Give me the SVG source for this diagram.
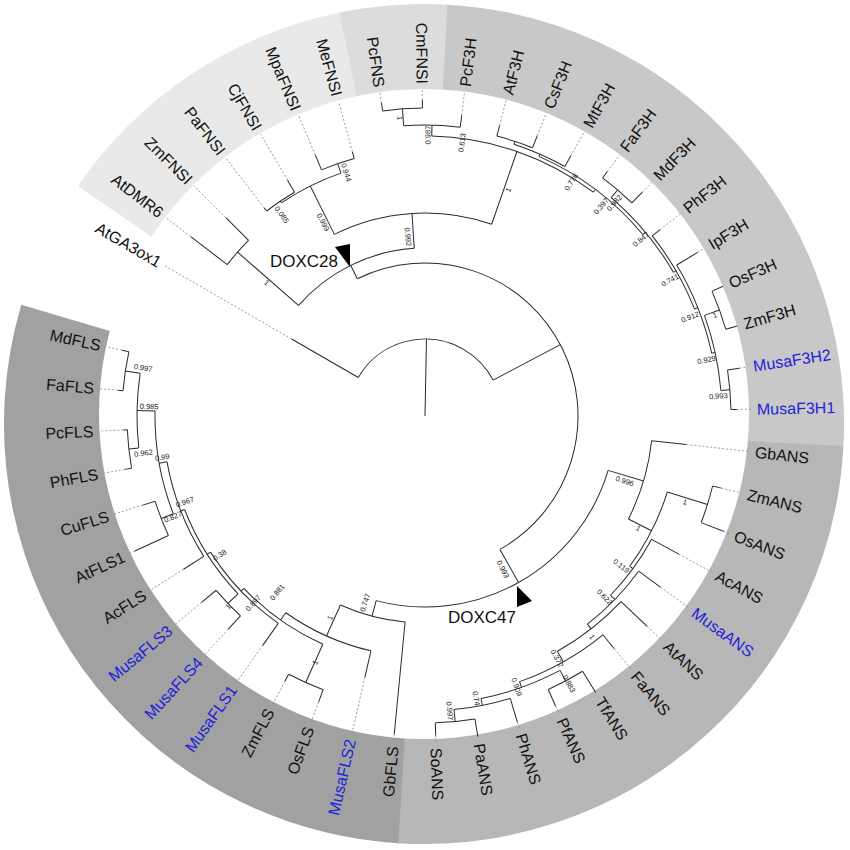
<svg xmlns="http://www.w3.org/2000/svg" width="850" height="850" viewBox="0 0 850 850">
<style>
.b{stroke:#2a2a2a;stroke-width:1;fill:none}
.d{stroke:#8a8a8a;stroke-width:0.8;stroke-dasharray:2 2;fill:none}
.lab{font-family:"Liberation Sans",Arial,sans-serif;font-size:16px;fill:#111}
.f{text-anchor:end}
.musa{fill:#2222d8}
.bs{font-family:"Liberation Sans",Arial,sans-serif;font-size:7.5px;fill:#222;text-anchor:middle}
.band{fill:none;stroke-width:110}
.doxc{font-family:"Liberation Sans",Arial,sans-serif;font-size:17px;fill:#111}
</style>
<rect width="850" height="850" fill="#fff"/>
<g id="bands">
<circle class="band" cx="424" cy="424" r="365" stroke="#e9e9e9" pathLength="360" stroke-dasharray="44.1 360" transform="rotate(214.5 424 424)"/>
<circle class="band" cx="424" cy="424" r="365" stroke="#dcdcdc" pathLength="360" stroke-dasharray="15 360" transform="rotate(258.4 424 424)"/>
<circle class="band" cx="424" cy="424" r="365" stroke="#c8c8c8" pathLength="360" stroke-dasharray="90 360" transform="rotate(273.2 424 424)"/>
<circle class="band" cx="424" cy="424" r="365" stroke="#b7b7b7" pathLength="360" stroke-dasharray="90.7 360" transform="rotate(3 424 424)"/>
<circle class="band" cx="424" cy="424" r="365" stroke="#a1a1a1" pathLength="360" stroke-dasharray="103 360" transform="rotate(93.5 424 424)"/>
<circle cx="424" cy="414" r="325" fill="#fff"/>
</g>
<g id="connectors" transform="translate(425,416)">
<!-- arcs -->
<circle class="b" r="77" pathLength="360" stroke-dasharray="122.21 360" transform="rotate(210)"/>
<circle class="b" r="153" pathLength="360" stroke-dasharray="176.94 360" transform="rotate(243.74)"/>
<circle class="b" r="168" pathLength="360" stroke-dasharray="45.17 360" transform="rotate(221.16)"/>
<circle class="b" r="249" pathLength="360" stroke-dasharray="7.44 360" transform="rotate(217.44)"/>
<circle class="b" r="203" pathLength="360" stroke-dasharray="45.69 360" transform="rotate(243.48)"/>
<circle class="b" r="257" pathLength="360" stroke-dasharray="14.88 360" transform="rotate(236.04)"/>
<circle class="b" r="259" pathLength="360" stroke-dasharray="7.44 360" transform="rotate(232.32)"/>
<circle class="b" r="267" pathLength="360" stroke-dasharray="7.44 360" transform="rotate(247.2)"/>
<circle class="b" r="280" pathLength="360" stroke-dasharray="35.57 360" transform="rotate(271.38)"/>
<circle class="b" r="291" pathLength="360" stroke-dasharray="11.16 360" transform="rotate(265.8)"/>
<circle class="b" r="308" pathLength="360" stroke-dasharray="7.44 360" transform="rotate(262.08)"/>
<circle class="b" r="283.5" pathLength="360" stroke-dasharray="26.5 360" transform="rotate(293.7)"/>
<circle class="b" r="286" pathLength="360" stroke-dasharray="11.16 360" transform="rotate(288.12)"/>
<circle class="b" r="289" pathLength="360" stroke-dasharray="7.44 360" transform="rotate(284.4)"/>
<circle class="b" r="287" pathLength="360" stroke-dasharray="19.53 360" transform="rotate(310.44)"/>
<circle class="b" r="297" pathLength="360" stroke-dasharray="7.44 360" transform="rotate(306.72)"/>
<circle class="b" r="290" pathLength="360" stroke-dasharray="16.74 360" transform="rotate(321.6)"/>
<circle class="b" r="293.5" pathLength="360" stroke-dasharray="18.6 360" transform="rotate(329.04)"/>
<circle class="b" r="297" pathLength="360" stroke-dasharray="14.88 360" transform="rotate(340.2)"/>
<circle class="b" r="313" pathLength="360" stroke-dasharray="7.44 360" transform="rotate(336.48)"/>
<circle class="b" r="306" pathLength="360" stroke-dasharray="7.44 360" transform="rotate(351.36)"/>
<circle class="b" r="191" pathLength="360" stroke-dasharray="88.28 360" transform="rotate(16.54)"/>
<circle class="b" r="228" pathLength="360" stroke-dasharray="20.6 360" transform="rotate(6.24)"/>
<circle class="b" r="254" pathLength="360" stroke-dasharray="18.89 360" transform="rotate(17.4)"/>
<circle class="b" r="296" pathLength="360" stroke-dasharray="7.44 360" transform="rotate(13.68)"/>
<circle class="b" r="258" pathLength="360" stroke-dasharray="15.46 360" transform="rotate(28.56)"/>
<circle class="b" r="264" pathLength="360" stroke-dasharray="16.04 360" transform="rotate(36)"/>
<circle class="b" r="270" pathLength="360" stroke-dasharray="17.2 360" transform="rotate(43.44)"/>
<circle class="b" r="282" pathLength="360" stroke-dasharray="19.53 360" transform="rotate(50.88)"/>
<circle class="b" r="288" pathLength="360" stroke-dasharray="16.74 360" transform="rotate(62.04)"/>
<circle class="b" r="300" pathLength="360" stroke-dasharray="7.44 360" transform="rotate(58.32)"/>
<circle class="b" r="295" pathLength="360" stroke-dasharray="11.16 360" transform="rotate(73.2)"/>
<circle class="b" r="307" pathLength="360" stroke-dasharray="7.44 360" transform="rotate(80.64)"/>
<circle class="b" r="207" pathLength="360" stroke-dasharray="18.6 360" transform="rotate(95.52)"/>
<circle class="b" r="241" pathLength="360" stroke-dasharray="22.32 360" transform="rotate(102.96)"/>
<circle class="b" r="250" pathLength="360" stroke-dasharray="22.32 360" transform="rotate(114.12)"/>
<circle class="b" r="292" pathLength="360" stroke-dasharray="7.44 360" transform="rotate(110.4)"/>
<circle class="b" r="254" pathLength="360" stroke-dasharray="22.32 360" transform="rotate(125.28)"/>
<circle class="b" r="258" pathLength="360" stroke-dasharray="22.32 360" transform="rotate(136.44)"/>
<circle class="b" r="272" pathLength="360" stroke-dasharray="7.44 360" transform="rotate(132.72)"/>
<circle class="b" r="262" pathLength="360" stroke-dasharray="22.32 360" transform="rotate(147.6)"/>
<circle class="b" r="270" pathLength="360" stroke-dasharray="22.32 360" transform="rotate(158.76)"/>
<circle class="b" r="283" pathLength="360" stroke-dasharray="7.44 360" transform="rotate(155.04)"/>
<circle class="b" r="288" pathLength="360" stroke-dasharray="14.88 360" transform="rotate(173.64)"/>
<circle class="b" r="298" pathLength="360" stroke-dasharray="7.44 360" transform="rotate(169.92)"/>
<circle class="b" r="303" pathLength="360" stroke-dasharray="7.44 360" transform="rotate(184.8)"/>
<!-- radial branches -->
<line class="b" x1="0" x2="77" transform="rotate(271.1)"/>
<line class="b" x1="77" x2="154" transform="rotate(210)"/>
<line class="b" x1="77" x2="153" transform="rotate(332.21)"/>
<line class="b" x1="153" x2="168" transform="rotate(243.74)"/>
<line class="b" x1="168" x2="249" transform="rotate(221.16)"/>
<line class="b" x1="249" x2="295" transform="rotate(217.44)"/>
<line class="b" x1="249" x2="281" transform="rotate(224.88)"/>
<line class="b" x1="168" x2="203" transform="rotate(266.33)"/>
<line class="b" x1="203" x2="257" transform="rotate(243.48)"/>
<line class="b" x1="257" x2="259" transform="rotate(236.04)"/>
<line class="b" x1="259" x2="263" transform="rotate(232.32)"/>
<line class="b" x1="259" x2="273" transform="rotate(239.76)"/>
<line class="b" x1="257" x2="267" transform="rotate(250.92)"/>
<line class="b" x1="267" x2="283" transform="rotate(247.2)"/>
<line class="b" x1="267" x2="274" transform="rotate(254.64)"/>
<line class="b" x1="203" x2="280" transform="rotate(289.17)"/>
<line class="b" x1="280" x2="291" transform="rotate(271.38)"/>
<line class="b" x1="291" x2="308" transform="rotate(265.8)"/>
<line class="b" x1="308" x2="316" transform="rotate(262.08)"/>
<line class="b" x1="308" x2="316" transform="rotate(269.52)"/>
<line class="b" x1="291" x2="303" transform="rotate(276.96)"/>
<line class="b" x1="280" x2="283.5" transform="rotate(306.95)"/>
<line class="b" x1="283.5" x2="286" transform="rotate(293.7)"/>
<line class="b" x1="286" x2="289" transform="rotate(288.12)"/>
<line class="b" x1="289" x2="300" transform="rotate(284.4)"/>
<line class="b" x1="289" x2="302" transform="rotate(291.84)"/>
<line class="b" x1="286" x2="298" transform="rotate(299.28)"/>
<line class="b" x1="283.5" x2="287" transform="rotate(320.2)"/>
<line class="b" x1="287" x2="297" transform="rotate(310.44)"/>
<line class="b" x1="297" x2="305" transform="rotate(306.72)"/>
<line class="b" x1="297" x2="312" transform="rotate(314.16)"/>
<line class="b" x1="287" x2="290" transform="rotate(329.97)"/>
<line class="b" x1="290" x2="300" transform="rotate(321.6)"/>
<line class="b" x1="290" x2="293.5" transform="rotate(338.34)"/>
<line class="b" x1="293.5" x2="318" transform="rotate(329.04)"/>
<line class="b" x1="293.5" x2="297" transform="rotate(347.64)"/>
<line class="b" x1="297" x2="313" transform="rotate(340.2)"/>
<line class="b" x1="313" x2="325" transform="rotate(336.48)"/>
<line class="b" x1="313" x2="325" transform="rotate(343.92)"/>
<line class="b" x1="297" x2="306" transform="rotate(355.08)"/>
<line class="b" x1="306" x2="318" transform="rotate(351.36)"/>
<line class="b" x1="306" x2="312" transform="rotate(358.8)"/>
<line class="b" x1="153" x2="191" transform="rotate(60.68)"/>
<line class="b" x1="191" x2="228" transform="rotate(16.54)"/>
<line class="b" x1="228" x2="263" transform="rotate(6.24)"/>
<line class="b" x1="228" x2="254" transform="rotate(26.85)"/>
<line class="b" x1="254" x2="296" transform="rotate(17.4)"/>
<line class="b" x1="296" x2="305" transform="rotate(13.68)"/>
<line class="b" x1="296" x2="320" transform="rotate(21.12)"/>
<line class="b" x1="254" x2="258" transform="rotate(36.29)"/>
<line class="b" x1="258" x2="289" transform="rotate(28.56)"/>
<line class="b" x1="258" x2="264" transform="rotate(44.02)"/>
<line class="b" x1="264" x2="291" transform="rotate(36)"/>
<line class="b" x1="264" x2="270" transform="rotate(52.04)"/>
<line class="b" x1="270" x2="306" transform="rotate(43.44)"/>
<line class="b" x1="270" x2="282" transform="rotate(60.65)"/>
<line class="b" x1="282" x2="300" transform="rotate(50.88)"/>
<line class="b" x1="282" x2="288" transform="rotate(70.41)"/>
<line class="b" x1="288" x2="300" transform="rotate(62.04)"/>
<line class="b" x1="300" x2="325" transform="rotate(58.32)"/>
<line class="b" x1="300" x2="318" transform="rotate(65.76)"/>
<line class="b" x1="288" x2="295" transform="rotate(78.78)"/>
<line class="b" x1="295" x2="320" transform="rotate(73.2)"/>
<line class="b" x1="295" x2="307" transform="rotate(84.36)"/>
<line class="b" x1="307" x2="325" transform="rotate(80.64)"/>
<line class="b" x1="307" x2="320" transform="rotate(88.08)"/>
<line class="b" x1="191" x2="207" transform="rotate(104.82)"/>
<line class="b" x1="207" x2="320" transform="rotate(95.52)"/>
<line class="b" x1="207" x2="241" transform="rotate(114.12)"/>
<line class="b" x1="241" x2="268" transform="rotate(102.96)"/>
<line class="b" x1="241" x2="250" transform="rotate(125.28)"/>
<line class="b" x1="250" x2="292" transform="rotate(114.12)"/>
<line class="b" x1="292" x2="305" transform="rotate(110.4)"/>
<line class="b" x1="292" x2="300" transform="rotate(117.84)"/>
<line class="b" x1="250" x2="254" transform="rotate(136.44)"/>
<line class="b" x1="254" x2="281" transform="rotate(125.28)"/>
<line class="b" x1="254" x2="258" transform="rotate(147.6)"/>
<line class="b" x1="258" x2="272" transform="rotate(136.44)"/>
<line class="b" x1="272" x2="290" transform="rotate(132.72)"/>
<line class="b" x1="272" x2="291" transform="rotate(140.16)"/>
<line class="b" x1="258" x2="262" transform="rotate(158.76)"/>
<line class="b" x1="262" x2="286" transform="rotate(147.6)"/>
<line class="b" x1="262" x2="270" transform="rotate(169.92)"/>
<line class="b" x1="270" x2="283" transform="rotate(158.76)"/>
<line class="b" x1="283" x2="320" transform="rotate(155.04)"/>
<line class="b" x1="283" x2="296" transform="rotate(162.48)"/>
<line class="b" x1="270" x2="288" transform="rotate(181.08)"/>
<line class="b" x1="288" x2="298" transform="rotate(173.64)"/>
<line class="b" x1="298" x2="305" transform="rotate(169.92)"/>
<line class="b" x1="298" x2="302" transform="rotate(177.36)"/>
<line class="b" x1="288" x2="303" transform="rotate(188.52)"/>
<line class="b" x1="303" x2="308" transform="rotate(184.8)"/>
<line class="b" x1="303" x2="310" transform="rotate(192.24)"/>
<!-- dotted leader lines -->
<line class="d" x1="154" x2="300" transform="rotate(210)"/>
<line class="d" x1="295" x2="326" transform="rotate(217.44)"/>
<line class="d" x1="281" x2="326" transform="rotate(224.88)"/>
<line class="d" x1="263" x2="326" transform="rotate(232.32)"/>
<line class="d" x1="273" x2="326" transform="rotate(239.76)"/>
<line class="d" x1="283" x2="326" transform="rotate(247.2)"/>
<line class="d" x1="274" x2="326" transform="rotate(254.64)"/>
<line class="d" x1="316" x2="326" transform="rotate(262.08)"/>
<line class="d" x1="316" x2="326" transform="rotate(269.52)"/>
<line class="d" x1="303" x2="326" transform="rotate(276.96)"/>
<line class="d" x1="300" x2="326" transform="rotate(284.4)"/>
<line class="d" x1="302" x2="326" transform="rotate(291.84)"/>
<line class="d" x1="298" x2="326" transform="rotate(299.28)"/>
<line class="d" x1="305" x2="326" transform="rotate(306.72)"/>
<line class="d" x1="312" x2="326" transform="rotate(314.16)"/>
<line class="d" x1="300" x2="326" transform="rotate(321.6)"/>
<line class="d" x1="318" x2="326" transform="rotate(329.04)"/>
<line class="d" x1="318" x2="326" transform="rotate(351.36)"/>
<line class="d" x1="312" x2="326" transform="rotate(358.8)"/>
<line class="d" x1="263" x2="326" transform="rotate(6.24)"/>
<line class="d" x1="305" x2="326" transform="rotate(13.68)"/>
<line class="d" x1="320" x2="326" transform="rotate(21.12)"/>
<line class="d" x1="289" x2="326" transform="rotate(28.56)"/>
<line class="d" x1="291" x2="326" transform="rotate(36)"/>
<line class="d" x1="306" x2="326" transform="rotate(43.44)"/>
<line class="d" x1="300" x2="326" transform="rotate(50.88)"/>
<line class="d" x1="318" x2="326" transform="rotate(65.76)"/>
<line class="d" x1="320" x2="326" transform="rotate(73.2)"/>
<line class="d" x1="320" x2="326" transform="rotate(88.08)"/>
<line class="d" x1="320" x2="326" transform="rotate(95.52)"/>
<line class="d" x1="268" x2="326" transform="rotate(102.96)"/>
<line class="d" x1="305" x2="326" transform="rotate(110.4)"/>
<line class="d" x1="300" x2="326" transform="rotate(117.84)"/>
<line class="d" x1="281" x2="326" transform="rotate(125.28)"/>
<line class="d" x1="290" x2="326" transform="rotate(132.72)"/>
<line class="d" x1="291" x2="326" transform="rotate(140.16)"/>
<line class="d" x1="286" x2="326" transform="rotate(147.6)"/>
<line class="d" x1="320" x2="326" transform="rotate(155.04)"/>
<line class="d" x1="296" x2="326" transform="rotate(162.48)"/>
<line class="d" x1="305" x2="326" transform="rotate(169.92)"/>
<line class="d" x1="302" x2="326" transform="rotate(177.36)"/>
<line class="d" x1="308" x2="326" transform="rotate(184.8)"/>
<line class="d" x1="310" x2="326" transform="rotate(192.24)"/>
</g>
<g id="support" transform="translate(425,416)">
<text class="bs" dy=".35em" transform="rotate(264.6) translate(180 0) rotate(180)">0.992</text>
<text class="bs" dy=".35em" transform="rotate(242.3) translate(219 0) rotate(180)">0.999</text>
<text class="bs" dy=".35em" transform="rotate(234.6) translate(247 0) rotate(180)">0.085</text>
<text class="bs" dy=".35em" transform="rotate(252.1) translate(256 0) rotate(180)">0.944</text>
<text class="bs" dy=".35em" transform="rotate(265.2) translate(299 0) rotate(180)">1</text>
<text class="bs" dy=".35em" transform="rotate(220.1) translate(207 0) rotate(180)">1</text>
<text class="bs" dy=".35em" transform="rotate(270.6) translate(281 0)">0.987</text>
<text class="bs" dy=".35em" transform="rotate(277.7) translate(276 0)">0.613</text>
<text class="bs" dy=".35em" transform="rotate(290.2) translate(241 0)">1</text>
<text class="bs" dy=".35em" transform="rotate(302) translate(276 0)">0.778</text>
<text class="bs" dy=".35em" transform="rotate(310) translate(274 0)">0.397</text>
<text class="bs" dy=".35em" transform="rotate(311.6) translate(285 0)">0.982</text>
<text class="bs" dy=".35em" transform="rotate(320.7) translate(279 0)">0.847</text>
<text class="bs" dy=".35em" transform="rotate(331) translate(280 0)">0.741</text>
<text class="bs" dy=".35em" transform="rotate(339.5) translate(283 0)">0.912</text>
<text class="bs" dy=".35em" transform="rotate(340.8) translate(307 0)">1</text>
<text class="bs" dy=".35em" transform="rotate(348.7) translate(287 0)">0.929</text>
<text class="bs" dy=".35em" transform="rotate(356.1) translate(294 0)">0.993</text>
<text class="bs" dy=".35em" transform="rotate(18) translate(210 0)">0.996</text>
<text class="bs" dy=".35em" transform="rotate(27.7) translate(241 0)">1</text>
<text class="bs" dy=".35em" transform="rotate(18.3) translate(274 0)">1</text>
<text class="bs" dy=".35em" transform="rotate(37.4) translate(247 0)">0.119</text>
<text class="bs" dy=".35em" transform="rotate(45.2) translate(255 0)">0.622</text>
<text class="bs" dy=".35em" transform="rotate(52.9) translate(277 0)">1</text>
<text class="bs" dy=".35em" transform="rotate(61.4) translate(276 0)">0.372</text>
<text class="bs" dy=".35em" transform="rotate(61.7) translate(304 0)">0.883</text>
<text class="bs" dy=".35em" transform="rotate(71.3) translate(286 0)">0.909</text>
<text class="bs" dy=".35em" transform="rotate(79.7) translate(287 0)">0.74</text>
<text class="bs" dy=".35em" transform="rotate(85.2) translate(296 0)">0.997</text>
<text class="bs" dy=".35em" transform="rotate(63) translate(172 0)">0.993</text>
<text class="bs" dy=".35em" transform="rotate(107.8) translate(196 0) rotate(180)">0.747</text>
<text class="bs" dy=".35em" transform="rotate(115.2) translate(223 0) rotate(180)">1</text>
<text class="bs" dy=".35em" transform="rotate(114) translate(270 0) rotate(180)">1</text>
<text class="bs" dy=".35em" transform="rotate(130) translate(230 0) rotate(180)">0.881</text>
<text class="bs" dy=".35em" transform="rotate(132.6) translate(254 0) rotate(180)">0.897</text>
<text class="bs" dy=".35em" transform="rotate(135.9) translate(274 0) rotate(180)">1</text>
<text class="bs" dy=".35em" transform="rotate(145.9) translate(248 0) rotate(180)">0.38</text>
<text class="bs" dy=".35em" transform="rotate(160.3) translate(255 0) rotate(180)">0.967</text>
<text class="bs" dy=".35em" transform="rotate(158.2) translate(271.5 0) rotate(180)">0.827</text>
<text class="bs" dy=".35em" transform="rotate(171.1) translate(266 0) rotate(180)">0.99</text>
<text class="bs" dy=".35em" transform="rotate(172.5) translate(284 0) rotate(180)">0.962</text>
<text class="bs" dy=".35em" transform="rotate(182) translate(276 0) rotate(180)">0.985</text>
<text class="bs" dy=".35em" transform="rotate(189.7) translate(286 0) rotate(180)">0.997</text>
</g>
<g id="clade-markers">
<g id="DOXC28"><polygon points="335,247 350,244 350,267" fill="#000"/><text class="doxc" x="270" y="267">DOXC28</text></g>
<g id="DOXC47"><polygon points="517,586 532,601 517,607" fill="#000"/><text class="doxc" x="448" y="623">DOXC47</text></g>
</g>
<g id="leaves" transform="translate(425,416)">
<g id="AtGA3ox1"><text class="lab f" dy=".35em" transform="rotate(210) translate(306 0) rotate(180)">AtGA3ox1</text></g>
<g id="AtDMR6"><text class="lab f" dy=".35em" transform="rotate(217.44) translate(332 0) rotate(180)">AtDMR6</text></g>
<g id="ZmFNSI"><text class="lab f" dy=".35em" transform="rotate(224.88) translate(332 0) rotate(180)">ZmFNSI</text></g>
<g id="PaFNSI"><text class="lab f" dy=".35em" transform="rotate(232.32) translate(332 0) rotate(180)">PaFNSI</text></g>
<g id="CjFNSI"><text class="lab f" dy=".35em" transform="rotate(239.76) translate(332 0) rotate(180)">CjFNSI</text></g>
<g id="MpaFNSI"><text class="lab f" dy=".35em" transform="rotate(247.2) translate(332 0) rotate(180)">MpaFNSI</text></g>
<g id="MeFNSI"><text class="lab f" dy=".35em" transform="rotate(254.64) translate(332 0) rotate(180)">MeFNSI</text></g>
<g id="PcFNS"><text class="lab f" dy=".35em" transform="rotate(262.08) translate(332 0) rotate(180)">PcFNS</text></g>
<g id="CmFNSI"><text class="lab f" dy=".35em" transform="rotate(269.52) translate(332 0) rotate(180)">CmFNSI</text></g>
<g id="PcF3H"><text class="lab" dy=".35em" transform="rotate(276.96) translate(332 0)">PcF3H</text></g>
<g id="AtF3H"><text class="lab" dy=".35em" transform="rotate(284.4) translate(332 0)">AtF3H</text></g>
<g id="CsF3H"><text class="lab" dy=".35em" transform="rotate(291.84) translate(332 0)">CsF3H</text></g>
<g id="MtF3H"><text class="lab" dy=".35em" transform="rotate(299.28) translate(332 0)">MtF3H</text></g>
<g id="FaF3H"><text class="lab" dy=".35em" transform="rotate(306.72) translate(332 0)">FaF3H</text></g>
<g id="MdF3H"><text class="lab" dy=".35em" transform="rotate(314.16) translate(332 0)">MdF3H</text></g>
<g id="PhF3H"><text class="lab" dy=".35em" transform="rotate(321.6) translate(332 0)">PhF3H</text></g>
<g id="IpF3H"><text class="lab" dy=".35em" transform="rotate(329.04) translate(332 0)">IpF3H</text></g>
<g id="OsF3H"><text class="lab" dy=".35em" transform="rotate(336.48) translate(332 0)">OsF3H</text></g>
<g id="ZmF3H"><text class="lab" dy=".35em" transform="rotate(343.92) translate(332 0)">ZmF3H</text></g>
<g id="MusaF3H2"><text class="lab musa" dy=".35em" transform="rotate(351.36) translate(332 0)">MusaF3H2</text></g>
<g id="MusaF3H1"><text class="lab musa" dy=".35em" transform="rotate(358.8) translate(332 0)">MusaF3H1</text></g>
<g id="GbANS"><text class="lab" dy=".35em" transform="rotate(6.24) translate(332 0)">GbANS</text></g>
<g id="ZmANS"><text class="lab" dy=".35em" transform="rotate(13.68) translate(332 0)">ZmANS</text></g>
<g id="OsANS"><text class="lab" dy=".35em" transform="rotate(21.12) translate(332 0)">OsANS</text></g>
<g id="AcANS"><text class="lab" dy=".35em" transform="rotate(28.56) translate(332 0)">AcANS</text></g>
<g id="MusaANS"><text class="lab musa" dy=".35em" transform="rotate(36) translate(332 0)">MusaANS</text></g>
<g id="AtANS"><text class="lab" dy=".35em" transform="rotate(43.44) translate(332 0)">AtANS</text></g>
<g id="FaANS"><text class="lab" dy=".35em" transform="rotate(50.88) translate(332 0)">FaANS</text></g>
<g id="TfANS"><text class="lab" dy=".35em" transform="rotate(58.32) translate(332 0)">TfANS</text></g>
<g id="PfANS"><text class="lab" dy=".35em" transform="rotate(65.76) translate(332 0)">PfANS</text></g>
<g id="PhANS"><text class="lab" dy=".35em" transform="rotate(73.2) translate(332 0)">PhANS</text></g>
<g id="PaANS"><text class="lab" dy=".35em" transform="rotate(80.64) translate(332 0)">PaANS</text></g>
<g id="SoANS"><text class="lab" dy=".35em" transform="rotate(88.08) translate(332 0)">SoANS</text></g>
<g id="GbFLS"><text class="lab f" dy=".35em" transform="rotate(95.52) translate(332 0) rotate(180)">GbFLS</text></g>
<g id="MusaFLS2"><text class="lab f musa" dy=".35em" transform="rotate(102.96) translate(332 0) rotate(180)">MusaFLS2</text></g>
<g id="OsFLS"><text class="lab f" dy=".35em" transform="rotate(110.4) translate(332 0) rotate(180)">OsFLS</text></g>
<g id="ZmFLS"><text class="lab f" dy=".35em" transform="rotate(117.84) translate(332 0) rotate(180)">ZmFLS</text></g>
<g id="MusaFLS1"><text class="lab f musa" dy=".35em" transform="rotate(125.28) translate(332 0) rotate(180)">MusaFLS1</text></g>
<g id="MusaFLS4"><text class="lab f musa" dy=".35em" transform="rotate(132.72) translate(332 0) rotate(180)">MusaFLS4</text></g>
<g id="MusaFLS3"><text class="lab f musa" dy=".35em" transform="rotate(140.16) translate(332 0) rotate(180)">MusaFLS3</text></g>
<g id="AcFLS"><text class="lab f" dy=".35em" transform="rotate(147.6) translate(332 0) rotate(180)">AcFLS</text></g>
<g id="AtFLS1"><text class="lab f" dy=".35em" transform="rotate(155.04) translate(332 0) rotate(180)">AtFLS1</text></g>
<g id="CuFLS"><text class="lab f" dy=".35em" transform="rotate(162.48) translate(332 0) rotate(180)">CuFLS</text></g>
<g id="PhFLS"><text class="lab f" dy=".35em" transform="rotate(169.92) translate(332 0) rotate(180)">PhFLS</text></g>
<g id="PcFLS"><text class="lab f" dy=".35em" transform="rotate(177.36) translate(332 0) rotate(180)">PcFLS</text></g>
<g id="FaFLS"><text class="lab f" dy=".35em" transform="rotate(184.8) translate(332 0) rotate(180)">FaFLS</text></g>
<g id="MdFLS"><text class="lab f" dy=".35em" transform="rotate(192.24) translate(332 0) rotate(180)">MdFLS</text></g>
</g>
</svg>
